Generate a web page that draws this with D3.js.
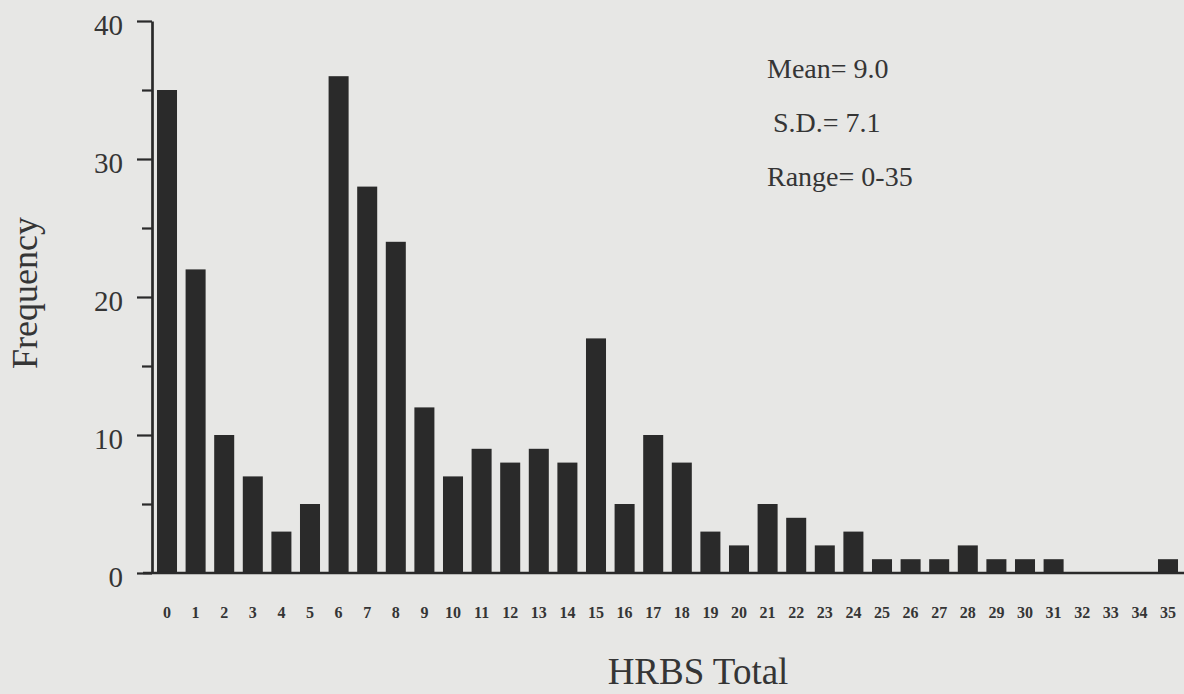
<!DOCTYPE html>
<html>
<head>
<meta charset="utf-8">
<script src="https://cdn.jsdelivr.net/npm/d3@7"></script>
<style>
  html, body { margin: 0; padding: 0; background: #e7e7e5; }
  svg { display: block; font-family: "Liberation Serif", "DejaVu Serif", serif; }
</style>
</head>
<body>
<svg id="chart" width="1184" height="694"></svg>
<script>
// HRBS total score distribution
const scores = d3.range(0, 36);
const frequency = [35, 22, 10, 7, 3, 5, 36, 28, 24, 12, 7, 9, 8, 9, 8, 17, 5, 10, 8, 3,
  2, 5, 4, 2, 3, 1, 1, 1, 2, 1, 1, 1, 0, 0, 0, 1];
const yTicks = [0, 5, 10, 15, 20, 25, 30, 35, 40];
const yLabels = [0, 10, 20, 30, 40];
const stats = ['Mean= 9.0', 'S.D.= 7.1', 'Range= 0-35'];

const svg = d3.select('#chart');
const ink = '#2a2a2a';
const textInk = '#353535';

const x = d3.scaleBand()
  .domain(scores)
  .range([152.7, 1182.3])
  .paddingInner(0.3)
  .paddingOuter(0.15);

const y = d3.scaleLinear()
  .domain([0, 40])
  .range([573, 21]);

// Bars
svg.append('g')
  .selectAll('rect')
  .data(scores)
  .enter()
  .append('rect')
  .attr('x', d => x(d))
  .attr('y', d => y(frequency[d]))
  .attr('width', x.bandwidth())
  .attr('height', d => y(0) - y(frequency[d]))
  .attr('fill', ink);

// Y axis
const yAxis = svg.append('g')
  .attr('transform', 'translate(152,0)')
  .call(d3.axisLeft(y)
    .tickValues(yTicks)
    .tickSizeOuter(0)
    .tickFormat(d => yLabels.includes(d) ? d : ''));

yAxis.select('.domain').attr('stroke', ink).attr('stroke-width', 2.7);
yAxis.selectAll('.tick line')
  .attr('stroke', ink)
  .attr('stroke-width', 2.2)
  .attr('x2', d => yLabels.includes(d) ? -15 : -10);
yAxis.selectAll('.tick text')
  .attr('x', -29)
  .attr('dy', '0.45em')
  .style('font-size', '29px')
  .style('font-family', '"Liberation Serif", serif')
  .attr('fill', textInk);

// X axis
const xAxis = svg.append('g')
  .attr('transform', 'translate(0,573)')
  .call(d3.axisBottom(x).tickSize(0).tickPadding(34));

xAxis.select('.domain').remove();
xAxis.selectAll('.tick text')
  .style('font-size', '16px')
  .style('font-weight', 'bold')
  .style('font-family', '"Liberation Serif", serif')
  .attr('fill', textInk);

svg.append('line')
  .attr('x1', 143)
  .attr('x2', 1184)
  .attr('y1', y(0))
  .attr('y2', y(0))
  .attr('stroke', ink)
  .attr('stroke-width', 2.7);

// Axis titles
svg.append('text')
  .attr('transform', 'translate(37,293) rotate(-90)')
  .attr('text-anchor', 'middle')
  .style('font-size', '36px')
  .attr('fill', textInk)
  .text('Frequency');

svg.append('text')
  .attr('x', 698)
  .attr('y', 684)
  .attr('text-anchor', 'middle')
  .style('font-size', '37px')
  .attr('fill', textInk)
  .text('HRBS Total');

// Summary stats
svg.append('g')
  .selectAll('text')
  .data(stats)
  .enter()
  .append('text')
  .attr('x', (d, i) => i === 1 ? 773 : 767)
  .attr('y', (d, i) => 78 + i * 54)
  .style('font-size', '28px')
  .attr('fill', textInk)
  .text(d => d);
</script>
</body>
</html>
